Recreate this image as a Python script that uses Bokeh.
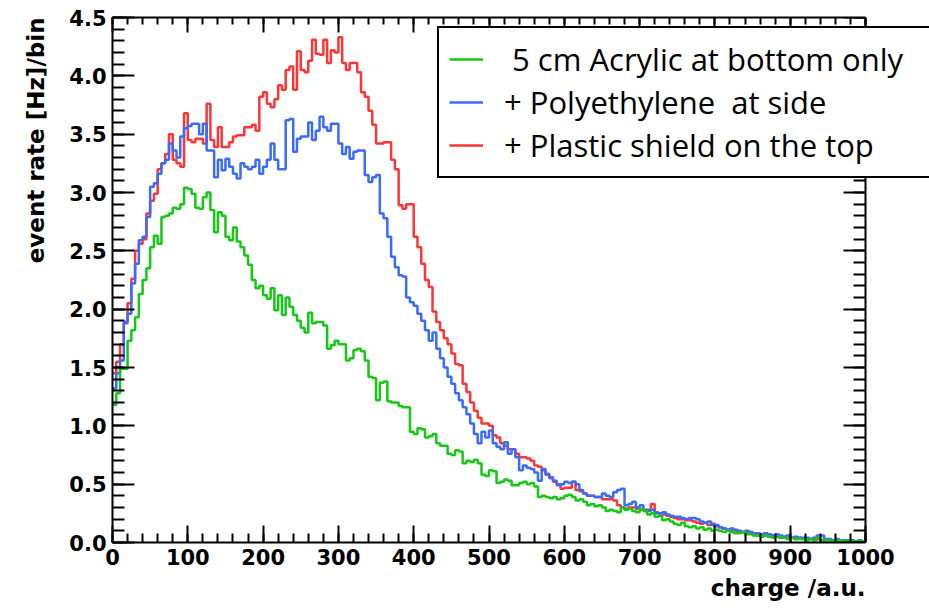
import numpy as np
from bokeh.plotting import figure
from bokeh.models import (Range1d, LinearAxis, SingleIntervalTicker, PrintfTickFormatter,
                          CustomJSTickFormatter, Legend, LegendItem, Title)
from bokeh.embed import file_html
from bokeh.resources import INLINE

# ---- data: histogram contents, 200 bins of width 5 over charge 0..1000 ----
bin_width = 5
charge_min, charge_max = 0, 1000

green = [1.18, 1.28, 1.49, 1.49, 1.73, 1.82, 1.93, 2.13, 2.25, 2.35,
         2.53, 2.63, 2.56, 2.79, 2.80, 2.82, 2.87, 2.86, 2.90, 3.04,
         3.03, 2.99, 2.87, 2.86, 2.96, 3.00, 2.85, 2.66, 2.83, 2.80,
         2.62, 2.59, 2.70, 2.58, 2.53, 2.46, 2.38, 2.25, 2.18, 2.20,
         2.12, 2.09, 2.18, 1.99, 2.12, 1.95, 2.10, 2.02, 1.95, 1.90,
         1.84, 1.80, 1.97, 1.88, 1.89, 1.89, 1.86, 1.66, 1.69, 1.73,
         1.70, 1.70, 1.56, 1.58, 1.65, 1.66, 1.64, 1.56, 1.42, 1.41,
         1.22, 1.37, 1.38, 1.21, 1.20, 1.20, 1.17, 1.16, 1.16, 0.95,
         0.93, 0.98, 0.97, 0.90, 0.91, 0.93, 0.85, 0.83, 0.83, 0.76,
         0.75, 0.79, 0.78, 0.68, 0.70, 0.69, 0.71, 0.68, 0.58, 0.57,
         0.62, 0.61, 0.51, 0.52, 0.54, 0.53, 0.49, 0.49, 0.51, 0.52,
         0.50, 0.51, 0.48, 0.39, 0.40, 0.39, 0.38, 0.39, 0.37, 0.38,
         0.40, 0.41, 0.39, 0.36, 0.37, 0.35, 0.32, 0.33, 0.31, 0.32,
         0.30, 0.27, 0.28, 0.27, 0.26, 0.30, 0.28, 0.29, 0.27, 0.26,
         0.29, 0.27, 0.24, 0.25, 0.22, 0.23, 0.19, 0.20, 0.18, 0.16,
         0.15, 0.17, 0.14, 0.13, 0.14, 0.12, 0.13, 0.11, 0.12, 0.10,
         0.11, 0.10, 0.09, 0.10, 0.09, 0.08, 0.08, 0.09, 0.07, 0.07,
         0.06, 0.06, 0.05, 0.06, 0.05, 0.04, 0.05, 0.04, 0.04, 0.03,
         0.04, 0.03, 0.03, 0.03, 0.02, 0.03, 0.02, 0.04, 0.02, 0.02,
         0.02, 0.02, 0.01, 0.02, 0.01, 0.02, 0.01, 0.01, 0.01, 0.01]

blue = [1.32, 1.45, 1.56, 1.89, 1.96, 2.22, 2.39, 2.59, 2.62, 2.79,
        3.05, 3.08, 3.16, 3.25, 3.28, 3.42, 3.36, 3.30, 3.48, 3.55,
        3.57, 3.59, 3.59, 3.50, 3.59, 3.36, 3.36, 3.13, 3.28, 3.19,
        3.29, 3.22, 3.16, 3.12, 3.25, 3.22, 3.20, 3.22, 3.28, 3.16,
        3.22, 3.28, 3.42, 3.28, 3.20, 3.20, 3.62, 3.63, 3.35, 3.46,
        3.48, 3.48, 3.60, 3.45, 3.53, 3.65, 3.56, 3.53, 3.59, 3.59,
        3.42, 3.33, 3.39, 3.29, 3.35, 3.36, 3.36, 3.15, 3.09, 3.13,
        3.15, 2.82, 2.78, 2.62, 2.45, 2.36, 2.29, 2.28, 2.10, 2.06,
        2.03, 1.96, 1.90, 1.82, 1.73, 1.80, 1.66, 1.58, 1.50, 1.42,
        1.36, 1.28, 1.22, 1.16, 1.10, 1.02, 0.93, 0.85, 0.95, 0.90,
        0.96, 0.85, 0.82, 0.80, 0.86, 0.76, 0.80, 0.73, 0.62, 0.66,
        0.64, 0.63, 0.60, 0.53, 0.63, 0.58, 0.56, 0.53, 0.49, 0.50,
        0.52, 0.51, 0.52, 0.50, 0.45, 0.42, 0.40, 0.40, 0.39, 0.39,
        0.42, 0.40, 0.39, 0.43, 0.45, 0.46, 0.32, 0.33, 0.35, 0.30,
        0.32, 0.28, 0.27, 0.28, 0.25, 0.25, 0.26, 0.24, 0.23, 0.22,
        0.22, 0.21, 0.20, 0.21, 0.21, 0.20, 0.18, 0.17, 0.18, 0.15,
        0.15, 0.13, 0.12, 0.11, 0.12, 0.11, 0.10, 0.09, 0.10, 0.09,
        0.08, 0.08, 0.07, 0.08, 0.07, 0.06, 0.07, 0.06, 0.05, 0.06,
        0.04, 0.05, 0.04, 0.04, 0.04, 0.03, 0.04, 0.06, 0.06, 0.03,
        0.03, 0.02, 0.03, 0.02, 0.02, 0.02, 0.02, 0.01, 0.02, 0.01]

red = [1.45, 1.55, 1.70, 1.88, 2.05, 2.26, 2.50, 2.56, 2.60, 2.82,
       2.93, 2.99, 3.20, 3.25, 3.33, 3.50, 3.28, 3.25, 3.22, 3.68,
       3.45, 3.43, 3.46, 3.46, 3.42, 3.76, 3.45, 3.39, 3.56, 3.39,
       3.39, 3.43, 3.48, 3.49, 3.49, 3.56, 3.56, 3.58, 3.53, 3.82,
       3.86, 3.76, 3.73, 3.80, 3.92, 3.88, 4.05, 4.08, 3.88, 4.21,
       4.05, 4.03, 4.13, 4.31, 4.19, 4.18, 4.31, 4.11, 4.22, 4.20,
       4.33, 4.11, 4.05, 4.11, 4.11, 4.03, 3.86, 3.82, 3.70, 3.58,
       3.42, 3.42, 3.43, 3.43, 3.28, 3.20, 2.89, 2.86, 2.90, 2.90,
       2.62, 2.53, 2.39, 2.25, 2.19, 1.98, 1.89, 1.82, 1.75, 1.70,
       1.62, 1.53, 1.52, 1.36, 1.29, 1.20, 1.13, 1.07, 1.02, 1.02,
       1.00, 0.92, 0.90, 0.85, 0.83, 0.80, 0.80, 0.76, 0.73, 0.73,
       0.72, 0.70, 0.66, 0.65, 0.62, 0.59, 0.55, 0.52, 0.50, 0.46,
       0.47, 0.47, 0.52, 0.45, 0.44, 0.42, 0.40, 0.40, 0.39, 0.39,
       0.37, 0.37, 0.37, 0.36, 0.32, 0.30, 0.29, 0.30, 0.30, 0.29,
       0.28, 0.27, 0.28, 0.33, 0.26, 0.25, 0.24, 0.23, 0.22, 0.21,
       0.20, 0.20, 0.19, 0.19, 0.18, 0.17, 0.16, 0.17, 0.15, 0.16,
       0.14, 0.13, 0.12, 0.11, 0.10, 0.10, 0.09, 0.09, 0.08, 0.08,
       0.07, 0.06, 0.07, 0.06, 0.05, 0.06, 0.05, 0.04, 0.05, 0.04,
       0.04, 0.03, 0.04, 0.03, 0.03, 0.03, 0.02, 0.03, 0.02, 0.02,
       0.02, 0.02, 0.01, 0.02, 0.01, 0.01, 0.01, 0.01, 0.01, 0.01]

labels = [" 5 cm Acrylic at bottom only",
          "+ Polyethylene  at side",
          "+ Plastic shield on the top"]
colors = ["#14c814", "#3a6bff", "#ff3535"]

x_title = "charge /a.u."
y_title = "event rate [Hz]/bin"
x_tick_interval = 100
y_tick_interval = 0.5
y_min, y_max = 0.0, 4.5

edges = list(range(charge_min, charge_max + 1, bin_width))

# ---- layout geometry (pixels) ----
W, H = 929, 613
frame_left, frame_top, frame_bottom = 112, 17, 542
axis_right_px = 865          # where charge = 1000 sits
frame_right = W              # frame runs to the canvas edge so the legend can overhang the axis
x_end = charge_max * (frame_right - frame_left) / (axis_right_px - frame_left)

p = figure(width=W, height=H, output_backend="svg", toolbar_location=None,
           x_range=Range1d(charge_min, x_end), y_range=Range1d(y_min, y_max),
           x_axis_type=None, y_axis_type=None,
           min_border_left=frame_left, min_border_right=W - frame_right,
           min_border_top=frame_top, min_border_bottom=H - frame_bottom)
p.outline_line_color = None
p.background_fill_color = "white"
p.border_fill_color = "white"

xt = SingleIntervalTicker(interval=x_tick_interval, num_minor_ticks=5)
yt = SingleIntervalTicker(interval=y_tick_interval, num_minor_ticks=5)
blank = CustomJSTickFormatter(code="return ''")


def style(ax, tin, tmin):
    ax.axis_line_color = "black"
    ax.axis_line_width = 2
    ax.major_tick_in = tin
    ax.major_tick_out = 0
    ax.minor_tick_in = tmin
    ax.minor_tick_out = 0
    ax.major_tick_line_width = 2
    ax.minor_tick_line_width = 2
    ax.major_tick_line_color = "black"
    ax.minor_tick_line_color = "black"
    ax.major_label_text_font = "DejaVu Sans"
    ax.major_label_text_font_style = "bold"
    ax.major_label_text_font_size = "21px"
    ax.major_label_text_color = "black"
    ax.major_label_standoff = 6


bottom = LinearAxis(ticker=xt, bounds=(charge_min, charge_max))
style(bottom, 17, 9)
top = LinearAxis(ticker=xt, formatter=blank, bounds=(charge_min, charge_max))
style(top, 15, 7)
top.major_label_standoff = 0
left = LinearAxis(ticker=yt, formatter=PrintfTickFormatter(format="%.1f"))
style(left, 22, 12)
right = LinearAxis(ticker=yt, formatter=blank, fixed_location=charge_max)
style(right, 22, 12)
right.major_label_standoff = 0

p.add_layout(bottom, "below")
p.add_layout(top, "above")
p.add_layout(left, "left")
p.add_layout(right, "right")

# axis titles (ROOT style: y title at the top end, x title at the right end of the axis)
p.add_layout(Title(text=x_title, align="right", standoff=10,
                   offset=frame_right - axis_right_px,
                   text_font="DejaVu Sans", text_font_style="bold",
                   text_font_size="23px", text_color="black"), "below")
p.add_layout(Title(text=y_title, align="right", standoff=36,
                   text_font="DejaVu Sans", text_font_style="bold",
                   text_font_size="23px", text_color="black"), "left")

renderers = {}
for name, vals, col in [("red", red, colors[2]), ("blue", blue, colors[1]), ("green", green, colors[0])]:
    yv = list(vals) + [vals[-1]]
    renderers[name] = p.step(x=edges, y=yv, mode="after", line_color=col, line_width=2.5)

legend = Legend(items=[LegendItem(label=labels[0], renderers=[renderers["green"]]),
                       LegendItem(label=labels[1], renderers=[renderers["blue"]]),
                       LegendItem(label=labels[2], renderers=[renderers["red"]])],
                location=(325, 364))
legend.border_line_color = "black"
legend.border_line_width = 2
legend.border_line_alpha = 1
legend.background_fill_color = "white"
legend.background_fill_alpha = 1
legend.label_text_font = "Open Sans"
legend.label_text_font_size = "31px"
legend.label_text_color = "black"
legend.glyph_width = 34
legend.glyph_height = 40
legend.label_height = 40
legend.label_width = 440
legend.padding = 10
legend.spacing = 1
legend.margin = 0
legend.label_standoff = 21
p.add_layout(legend)

open("out.html", "w").write(file_html(p, INLINE))
